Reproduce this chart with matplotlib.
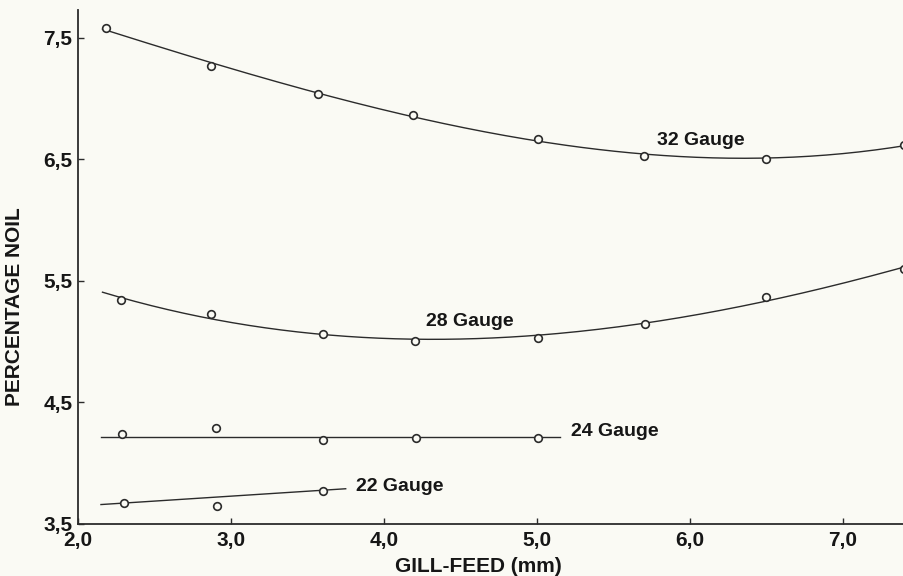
import numpy as np
import matplotlib.pyplot as plt

plt.rcParams['font.family'] = ['Liberation Sans', 'DejaVu Sans']
plt.rcParams['font.weight'] = 'bold'

# gill-feed settings (mm) and measured noil (%) for each yarn gauge
feed_32 = [2.18, 2.87, 3.57, 4.19, 5.01, 5.70, 6.50, 7.40]
noil_32 = [7.58, 7.27, 7.04, 6.87, 6.67, 6.53, 6.50, 6.62]

feed_28 = [2.28, 2.87, 3.60, 4.20, 5.01, 5.71, 6.50, 7.40]
noil_28 = [5.34, 5.23, 5.06, 5.01, 5.03, 5.15, 5.37, 5.60]

feed_24 = [2.29, 2.90, 3.60, 4.21, 5.01]
noil_24 = [4.24, 4.29, 4.19, 4.21, 4.21]

feed_22 = [2.30, 2.91, 3.60]
noil_22 = [3.67, 3.65, 3.77]

# straight fitted lines for the two coarse gauges (end points)
line_24_x = [2.15, 5.15]
line_24_y = [4.22, 4.22]
line_22_x = [2.15, 3.75]
line_22_y = [3.66, 3.79]

ink = '#2b2b2b'
text_ink = '#161616'
paper = '#fafaf4'

fig = plt.figure(figsize=(9.04, 5.76), dpi=100, facecolor=paper)
ax = fig.add_axes([0.0863, 0.0903, 0.9137, 0.8923], facecolor=paper)

# smooth fitted curves for the fine gauges
for fx, fy in [(feed_32, noil_32), (feed_28, noil_28)]:
    coef = np.polyfit(fx, fy, 3)
    xs = np.linspace(2.16, 7.45, 200)
    ax.plot(xs, np.polyval(coef, xs), color=ink, lw=1.0)

ax.plot(line_24_x, line_24_y, color=ink, lw=1.0)
ax.plot(line_22_x, line_22_y, color=ink, lw=1.0)

for fx, fy in [(feed_32, noil_32), (feed_28, noil_28),
               (feed_24, noil_24), (feed_22, noil_22)]:
    ax.plot(fx, fy, 'o', ms=5.5, mfc=paper, mec=ink, mew=1.2, clip_on=False, zorder=3)

# curve labels
lab = dict(fontsize=14, fontweight='bold', color=text_ink, va='center')
ax.text(6.07, 6.66, '32 Gauge', ha='center', **lab)
ax.text(4.56, 5.17, '28 Gauge', ha='center', **lab)
ax.text(5.22, 4.26, '24 Gauge', ha='left', **lab)
ax.text(3.82, 3.81, '22 Gauge', ha='left', **lab)

ax.set_xlim(2.0, 7.4)
ax.set_ylim(3.5, 7.73)
ax.set_xticks([2.0, 3.0, 4.0, 5.0, 6.0, 7.0])
ax.set_xticklabels(['2,0', '3,0', '4,0', '5,0', '6,0', '7,0'])
ax.set_yticks([3.5, 4.5, 5.5, 6.5, 7.5])
ax.set_yticklabels(['3,5', '4,5', '5,5', '6,5', '7,5'])
ax.tick_params(direction='in', length=4, width=1.0, color=ink, labelsize=15, labelcolor=text_ink)
ax.tick_params(axis='x', pad=5)
ax.tick_params(axis='y', pad=4)

for side in ['top', 'right']:
    ax.spines[side].set_visible(False)
for side in ['left', 'bottom']:
    ax.spines[side].set_color(ink)
    ax.spines[side].set_linewidth(1.3)

ax.set_xlabel('GILL-FEED (mm)', fontsize=15, fontweight='bold', color=text_ink)
ax.set_ylabel('PERCENTAGE NOIL', fontsize=15, fontweight='bold', color=text_ink)
ax.xaxis.set_label_coords(0.485, -0.064)
ax.yaxis.set_label_coords(-0.0654, 0.422)

plt.savefig('out.png', dpi=100, facecolor=paper)
plt.close()
